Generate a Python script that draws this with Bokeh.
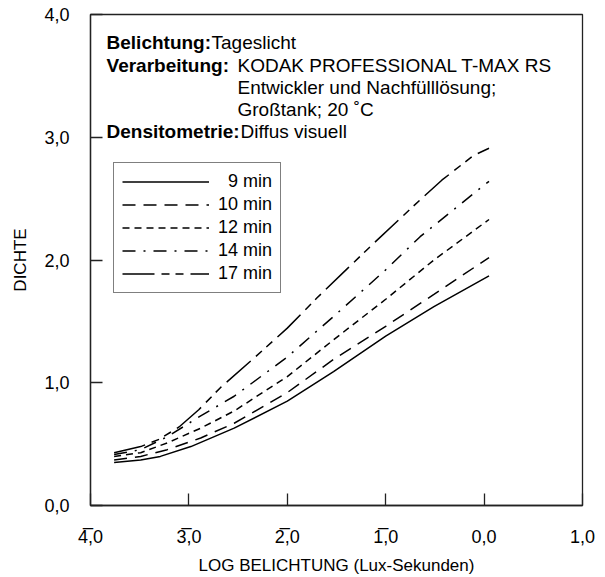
from bokeh.plotting import figure
from bokeh.models import Range1d, FixedTicker, Label, Legend, LegendItem
from bokeh.embed import file_html
from bokeh.resources import INLINE

# ---- data ----
x9 = [-3.76, -3.49, -3.29, -2.98, -2.54, -2.00, -1.53, -1.00, -0.51, 0.05]
y9 = [0.35, 0.37, 0.40, 0.48, 0.63, 0.85, 1.09, 1.38, 1.62, 1.87]

x10 = [-3.76, -3.49, -3.22, -2.88, -2.54, -2.00, -1.53, -1.00, -0.51, 0.05]
y10 = [0.37, 0.40, 0.455, 0.55, 0.67, 0.92, 1.19, 1.46, 1.72, 2.02]

x12 = [-3.76, -3.49, -3.22, -2.88, -2.54, -2.00, -1.53, -1.00, -0.51, 0.05]
y12 = [0.40, 0.43, 0.51, 0.63, 0.77, 1.05, 1.35, 1.68, 2.00, 2.33]

x14 = [-3.76, -3.49, -3.22, -2.88, -2.54, -2.00, -1.53, -1.00, -0.65, 0.00, 0.05]
y14 = [0.415, 0.455, 0.56, 0.73, 0.89, 1.21, 1.54, 1.92, 2.19, 2.61, 2.64]

x17 = [-3.76, -3.49, -3.30, -3.10, -2.90, -2.68, -2.34, -2.00, -1.70, -1.39, -1.09, -0.65, -0.43, -0.11, 0.05]
y17 = [0.43, 0.48, 0.54, 0.64, 0.78, 0.96, 1.20, 1.445, 1.69, 1.93, 2.16, 2.49, 2.65, 2.85, 2.91]

series_labels = ["\u20079 min", "10 min", "12 min", "14 min", "17 min"]

x_ticks = [-4, -3, -2, -1, 0, 1]
x_tick_labels = ["4\u0305,0", "3\u0305,0", "2\u0305,0", "1\u0305,0", "0,0", "1,0"]
y_ticks = [0, 1, 2, 3, 4]
y_tick_labels = ["0,0", "1,0", "2,0", "3,0", "4,0"]

x_title = "LOG BELICHTUNG (Lux-Sekunden)"
y_title = "DICHTE"

FONT = "Liberation Sans"

p = figure(width=605, height=577, output_backend="svg", toolbar_location=None,
           x_range=Range1d(-4, 1), y_range=Range1d(0, 4),
           min_border_left=90, min_border_right=23, min_border_top=14, min_border_bottom=71)
p.background_fill_color = "white"
p.border_fill_color = "white"
p.outline_line_color = "#222222"
p.outline_line_width = 1.3
p.xgrid.visible = False
p.ygrid.visible = False

for ax, ticks, labels in ((p.xaxis[0], x_ticks, x_tick_labels), (p.yaxis[0], y_ticks, y_tick_labels)):
    ax.ticker = FixedTicker(ticks=ticks)
    ax.major_label_overrides = {t: l for t, l in zip(ticks, labels)}
    ax.major_tick_in = 12
    ax.major_tick_out = 0
    ax.minor_tick_line_color = None
    ax.major_tick_line_color = "#222222"
    ax.major_tick_line_width = 1.3
    ax.axis_line_color = "#222222"
    ax.axis_line_width = 1.3
    ax.major_label_text_font = FONT
    ax.major_label_text_font_size = "18px"
    ax.major_label_text_color = "black"
    ax.axis_label_text_font = FONT
    ax.axis_label_text_font_size = "17px"
    ax.axis_label_text_font_style = "normal"
    ax.axis_label_text_color = "black"

p.xaxis.axis_label = x_title
p.yaxis.axis_label = y_title
p.xaxis.major_label_standoff = 21
p.yaxis.major_label_standoff = 21
p.xaxis.axis_label_standoff = 6
p.yaxis.axis_label_standoff = 11

styles = [
    dict(line_dash="solid"),
    dict(line_dash="13 8"),
    dict(line_dash="7 5"),
    dict(line_dash="13 8 2 8"),
    dict(line_dash="32 7 8 6 8 7"),
]
xs = [x9, x10, x12, x14, x17]
ys = [y9, y10, y12, y14, y17]
items = []
for xx, yy, st, lab in zip(xs, ys, styles, series_labels):
    r = p.line(xx, yy, line_color="black", line_width=1.5, **st)
    items.append(LegendItem(label=lab, renderers=[r]))

legend = Legend(items=items, location=(23, 212), orientation="vertical",
                glyph_width=87, glyph_height=21, label_height=21, spacing=2,
                padding=8, margin=0, label_standoff=9,
                label_text_font=FONT, label_text_font_size="18px", label_text_color="black",
                border_line_color="black", border_line_width=1.2,
                background_fill_color="white", background_fill_alpha=1.0)
p.add_layout(legend, "center")

# ---- header annotation ----
ann = [
    ("Belichtung:", "bold", -3.837, 3.772),
    ("Tageslicht", "normal", -2.770, 3.772),
    ("Verarbeitung:", "bold", -3.837, 3.585),
    ("KODAK PROFESSIONAL T-MAX RS", "normal", -2.506, 3.585),
    ("Entwickler und Nachfülllösung;", "normal", -2.506, 3.407),
    ("Großtank; 20 ˚C", "normal", -2.506, 3.228),
    ("Densitometrie:", "bold", -3.837, 3.049),
    ("Diffus visuell", "normal", -2.475, 3.049),
]
for txt, style, xx, yy in ann:
    p.add_layout(Label(x=xx, y=yy, text=txt, text_font=FONT, text_font_size="19px",
                       text_font_style=style, text_baseline="middle", text_align="left",
                       text_color="black"))

open("out.html", "w").write(file_html(p, INLINE))
